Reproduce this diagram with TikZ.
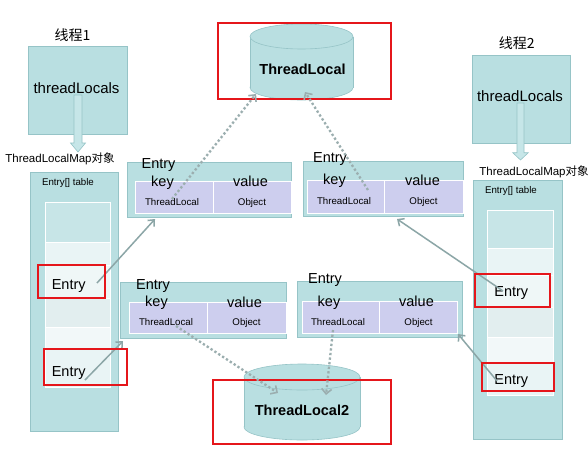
\documentclass[tikz,border=0pt]{standalone}
\usepackage{fontspec}
\setmainfont{Liberation Sans}
\newfontfamily\cjk{Noto Sans CJK SC}
\usetikzlibrary{arrows.meta}

\definecolor{panelfill}{HTML}{B9DFE1}
\definecolor{panelline}{HTML}{96C4C7}
\definecolor{cellfill}{HTML}{CDCEEE}
\definecolor{hilite}{HTML}{E5161B}
\definecolor{linkcol}{HTML}{8CA6A7}
\definecolor{refcol}{HTML}{9BAEAF}
\definecolor{slottop}{HTML}{C7E5E7}
\definecolor{slotpale}{HTML}{E9F4F5}
\definecolor{slotlite}{HTML}{EFF7F7}
\definecolor{slotgrey}{HTML}{E2EEEF}
\definecolor{slotwhite}{HTML}{F2F8F9}
\definecolor{arrowfill}{HTML}{C6E6E8}

\tikzset{
  panel/.style={draw=panelline, fill=panelfill, line width=0.6pt, anchor=north west, inner sep=0pt, outer sep=0pt},
  cell/.style={draw=white, fill=cellfill, line width=0.8pt, anchor=north west, inner sep=0pt, outer sep=0pt},
  txt/.style={inner sep=0pt, anchor=base, font=\fontsize{14.5}{16}\selectfont},
  bigtxt/.style={inner sep=0pt, anchor=base, font=\fontsize{15}{17}\selectfont},
  smalltxt/.style={inner sep=0pt, anchor=base, font=\fontsize{9.7}{11}\selectfont},
  maptxt/.style={inner sep=0pt, anchor=base, font=\fontsize{11.5}{13}\selectfont},
  threadtxt/.style={inner sep=0pt, anchor=base, font=\cjk\fontsize{14}{16}\selectfont},
  drumtxt/.style={inner sep=0pt, anchor=base, font=\bfseries\fontsize{14.5}{16}\selectfont},
  hibox/.style={draw=hilite, line width=2pt},
  link/.style={draw=linkcol, line width=1.5pt, -{Straight Barb[length=5pt,width=9pt]}},
  reflink/.style={draw=refcol, line width=2.3pt, dash pattern=on 2.3pt off 2.3pt,
    -{Straight Barb[length=5pt,width=10pt,line width=1.6pt]}},
  blockarrow/.style={draw=panelline, fill=arrowfill, line width=0.6pt},
  drum/.style={draw=panelline, fill=panelfill, line width=0.6pt},
  slot/.style={draw=white, line width=0.4pt},
}

\begin{document}
\begin{tikzpicture}[x=1pt, y=-1pt]
\useasboundingbox (0,0) rectangle (588,458);
\fill[white] (0,0) rectangle (588,458);

% ---------- thread 1 ----------
\node[threadtxt] (t1name) at (72.5,40) {线程1};
\node[panel, minimum width=99pt, minimum height=88pt] (t1box) at (28,46) {};
\node[bigtxt] (t1text) at (76.5,93) {threadLocals};
\draw[blockarrow] (74,95) -- (82,95) -- (82,143) -- (85.5,143) -- (78,152)
  -- (70.5,143) -- (74,143) -- cycle;
\node[maptxt] (t1map) at (60,162.5) {ThreadLocalMap{\cjk 对象}};

\node[panel, minimum width=88pt, minimum height=259pt] (ltab) at (30,172) {};
\node[smalltxt] (ltabname) at (68,185) {Entry[] table};
\fill[slot, fill=slottop]   (45,202) rectangle (110,242);
\fill[slot, fill=slotpale]  (45,242) rectangle (110,265);
\fill[slot, fill=slotlite]  (45,265) rectangle (110,298);
\fill[slot, fill=slotgrey]  (45,298) rectangle (110,327);
\fill[slot, fill=slotwhite] (45,327) rectangle (110,349);
\fill[slot, fill=slotpale]  (45,349) rectangle (110,387);
\node[txt] (lent1) at (68.7,289) {Entry};
\node[txt] (lent2) at (68.7,376) {Entry};

% ---------- thread 2 ----------
\node[threadtxt] (t2name) at (516.7,48) {线程2};
\node[panel, minimum width=98pt, minimum height=88pt] (t2box) at (472,55) {};
\node[bigtxt] (t2text) at (520,101.5) {threadLocals};
\draw[blockarrow] (517,103) -- (524,103) -- (524,152.7) -- (528.3,152.7) -- (520.5,160)
  -- (512.7,152.7) -- (517,152.7) -- cycle;
\node[maptxt] (t2map) at (534,175) {ThreadLocalMap{\cjk 对象}};

\node[panel, minimum width=89pt, minimum height=259pt] (rtab) at (473,180) {};
\node[smalltxt] (rtabname) at (511,193) {Entry[] table};
\fill[slot, fill=slottop]   (487,210) rectangle (553,248);
\fill[slot, fill=slotpale]  (487,248) rectangle (553,275);
\fill[slot, fill=slotlite]  (487,275) rectangle (553,307);
\fill[slot, fill=slotgrey]  (487,307) rectangle (553,337);
\fill[slot, fill=slotwhite] (487,337) rectangle (553,363);
\fill[slot, fill=slotpale]  (487,363) rectangle (553,395);
\node[txt] (rent1) at (511.3,296.5) {Entry};
\node[txt] (rent2) at (511.3,384) {Entry};

% ---------- entry objects ----------
% upper left
\node[panel, minimum width=164pt, minimum height=55pt] (e1) at (127,162) {};
\node[cell, minimum width=78pt, minimum height=32pt] (e1k) at (135,181) {};
\node[cell, minimum width=78pt, minimum height=32pt] (e1v) at (213,181) {};
\node[txt] (e1name) at (158.5,168) {Entry};
\node[txt] (e1key) at (162.5,186) {key};
\node[txt] (e1val) at (250.5,186.5) {value};
\node[smalltxt] (e1kt) at (172,205) {ThreadLocal};
\node[smalltxt] (e1vt) at (252,205) {Object};

% upper right
\node[panel, minimum width=160pt, minimum height=55pt] (e2) at (303,161) {};
\node[cell, minimum width=77pt, minimum height=33pt] (e2k) at (307,180) {};
\node[cell, minimum width=79pt, minimum height=33pt] (e2v) at (384,180) {};
\node[txt] (e2name) at (330,162) {Entry};
\node[txt] (e2key) at (334.5,184.5) {key};
\node[txt] (e2val) at (422.5,185.5) {value};
\node[smalltxt] (e2kt) at (344,204) {ThreadLocal};
\node[smalltxt] (e2vt) at (423.5,204) {Object};

% lower left
\node[panel, minimum width=166pt, minimum height=56pt] (e3) at (120,282) {};
\node[cell, minimum width=78pt, minimum height=31pt] (e3k) at (129,302) {};
\node[cell, minimum width=79pt, minimum height=31pt] (e3v) at (207,302) {};
\node[txt] (e3name) at (153,289) {Entry};
\node[txt] (e3key) at (156.5,306.5) {key};
\node[txt] (e3val) at (244.5,307) {value};
\node[smalltxt] (e3kt) at (166,325.5) {ThreadLocal};
\node[smalltxt] (e3vt) at (246.5,325.5) {Object};

% lower right
\node[panel, minimum width=165pt, minimum height=56pt] (e4) at (297,281) {};
\node[cell, minimum width=77pt, minimum height=32pt] (e4k) at (302,301) {};
\node[cell, minimum width=78pt, minimum height=32pt] (e4v) at (379,301) {};
\node[txt] (e4name) at (325,283) {Entry};
\node[txt] (e4key) at (329,306) {key};
\node[txt] (e4val) at (416.5,306) {value};
\node[smalltxt] (e4kt) at (338,325) {ThreadLocal};
\node[smalltxt] (e4vt) at (418.5,325) {Object};

% ---------- ThreadLocal drums ----------
\draw[drum] (301.5,87.5) ellipse [x radius=51.5, y radius=12.5];
\fill[panelfill] (250,36.5) rectangle (353,87.5);
\draw[panelline, line width=0.6pt] (250,36.5) -- (250,87.5) (353,36.5) -- (353,87.5);
\draw[drum] (301.5,36.5) ellipse [x radius=51.5, y radius=12.5];
\node[drumtxt] (tl1) at (302.5,74) {ThreadLocal};

\draw[drum] (302,427) ellipse [x radius=58, y radius=13];
\fill[panelfill] (244,377) rectangle (360,427);
\draw[panelline, line width=0.6pt] (244,377) -- (244,427) (360,377) -- (360,427);
\draw[drum] (302,377) ellipse [x radius=58, y radius=13];
\node[drumtxt] (tl2) at (302,415) {ThreadLocal2};

% ---------- connector end points ----------
\coordinate (l1from) at (97,283);
\coordinate (l2from) at (85,380);
\coordinate (r1from) at (503,291);
\coordinate (r2from) at (497,381);
\coordinate (e1in) at (155,219);
\coordinate (e3in) at (123,341);
\coordinate (e2in) at (397,219);
\coordinate (e4in) at (458,334);
\coordinate (e1ref) at (172,199);
\coordinate (e2ref) at (368,190);
\coordinate (e3ref) at (176,326);
\coordinate (e4ref) at (333,330);
\coordinate (tl1a) at (256,94);
\coordinate (tl1b) at (305,92);
\coordinate (tl2a) at (278,393);
\coordinate (tl2b) at (326,395);

% table slots point at their entries
\draw[link] (l1from) -- (e1in);
\draw[link] (l2from) -- (e3in);
\draw[link] (r1from) -- (e2in);
\draw[link] (r2from) -- (e4in);

% highlight frames
\draw[hibox] (218,23) rectangle (391,99);
\draw[hibox] (213,380) rectangle (391,444);
\draw[hibox] (38,265) rectangle (105,298);
\draw[hibox] (44,349) rectangle (127,385);
\draw[hibox] (475,274) rectangle (549.5,307);
\draw[hibox] (482,363) rectangle (554,391);

% keys refer to the ThreadLocal instances
\draw[reflink] (e1ref) -- (tl1a);
\draw[reflink] (e2ref) -- (tl1b);
\draw[reflink] (e3ref) -- (tl2a);
\draw[reflink] (e4ref) -- (tl2b);
\end{tikzpicture}
\end{document}
